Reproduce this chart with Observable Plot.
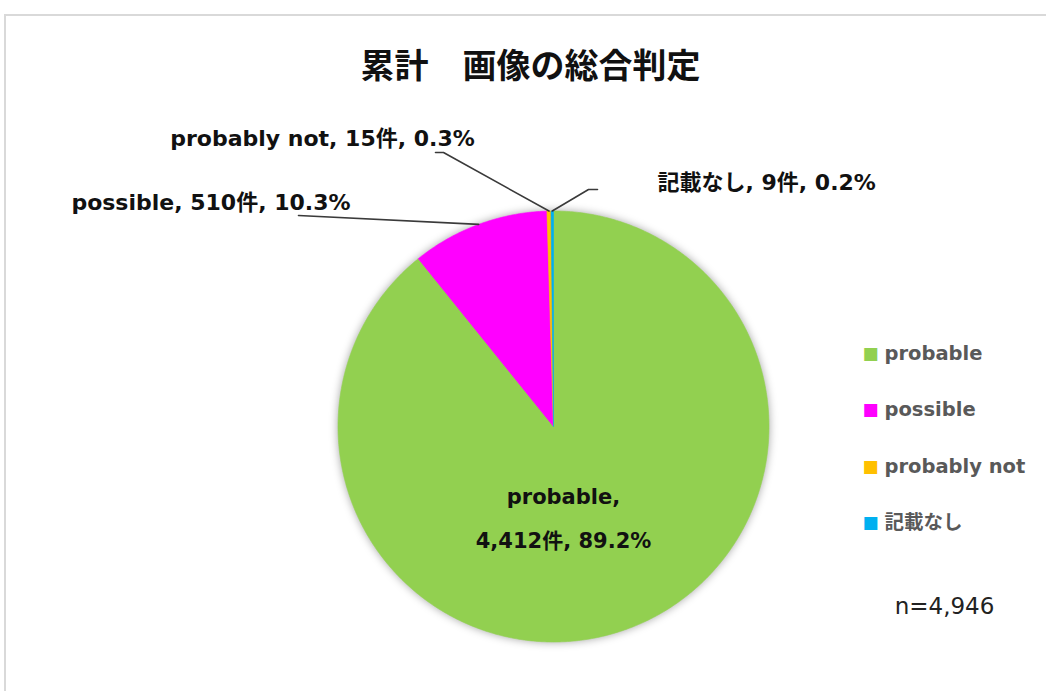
<!DOCTYPE html>
<html>
<head>
<meta charset="utf-8">
<script src="https://cdn.jsdelivr.net/npm/d3@7"></script>
<script src="https://cdn.jsdelivr.net/npm/@observablehq/plot@0.6"></script>
<style>
  html, body { margin: 0; padding: 0; background: #fff; width: 1046px; height: 691px; overflow: hidden; }
  #frame { position: absolute; left: 4px; top: 14px; width: 1100px; height: 800px;
           border-top: 2px solid #d9d9d9; border-left: 2px solid #d9d9d9; box-sizing: border-box; }
  #chart { position: absolute; left: 0; top: 0; }
</style>
</head>
<body>
<div id="frame"></div>
<div id="chart"></div>
<script>
// ---- data ----
const categories = ["probable", "possible", "probably not", "記載なし"];
const counts = [4412, 510, 15, 9];
const percents = ["89.2%", "10.3%", "0.3%", "0.2%"];
const colors = ["#92d050", "#ff00ff", "#ffc000", "#00b0f0"];
const totalLabel = "n=4,946";
const title = "累計　画像の総合判定";

// ---- layout (pixels) ----
const W = 1046, H = 691;
const CX = 553, CY = 426, R = 215.5;
const FONT = "'DejaVu Sans', 'Noto Sans CJK JP', sans-serif";
// label positions for each slice (pixel coordinates) and leader-line elbow
const labelLayout = [
  {lines: 2, x: 563, y: 497, dy2: 44, anchor: "middle", size: 21, leader: null},
  {lines: 1, x: 350, y: 202, anchor: "end", size: 22, leader: [[298, 215]]},
  {lines: 1, x: 322, y: 138, anchor: "middle", size: 22, leader: [[435, 152], [443, 152]]},
  {lines: 1, x: 657, y: 182, anchor: "start", size: 22, leader: [[597, 189], [588, 189]]}
];
const legendLayout = {x: 870, y0: 353, step: 56.5, textX: 884};

// pixel -> data units (radius units, y downward)
const ux = px => (px - CX) / R;
const uy = py => (py - CY) / R;

// ---- pie geometry via d3.pie ----
const rows = categories.map((c, i) => ({category: c, count: counts[i], pct: percents[i]}));
const arcs = d3.pie().sort(null).value(d => d.count)(rows);
const slicePts = [];
arcs.forEach(a => {
  const n = Math.max(2, Math.ceil((a.endAngle - a.startAngle) / (Math.PI / 360)));
  slicePts.push({category: a.data.category, x: 0, y: 0});
  for (let k = 0; k <= n; k++) {
    const t = a.startAngle + (a.endAngle - a.startAngle) * k / n;
    slicePts.push({category: a.data.category, x: Math.sin(t), y: -Math.cos(t)});
  }
  slicePts.push({category: a.data.category, x: 0, y: 0});
});

// leader lines: from label elbow to slice mid-arc point
const leaderPts = [];
arcs.forEach((a, i) => {
  const L = labelLayout[i];
  if (!L.leader) return;
  L.leader.forEach(p => leaderPts.push({id: i, x: ux(p[0]), y: uy(p[1])}));
  const m = (a.startAngle + a.endAngle) / 2;
  leaderPts.push({id: i, x: Math.sin(m), y: -Math.cos(m)});
});

// slice labels
const labelRows = [];
arcs.forEach((a, i) => {
  const L = labelLayout[i];
  const d = a.data;
  const cnt = d3.format(",")(d.count) + "件";
  if (L.lines === 2) {
    labelRows.push({x: ux(L.x), y: uy(L.y), text: d.category + ",", anchor: L.anchor, size: L.size});
    labelRows.push({x: ux(L.x), y: uy(L.y + L.dy2), text: cnt + ", " + d.pct, anchor: L.anchor, size: L.size});
  } else {
    labelRows.push({x: ux(L.x), y: uy(L.y), text: d.category + ", " + cnt + ", " + d.pct, anchor: L.anchor, size: L.size});
  }
});
const labelMarks = ["start", "middle", "end"].map(anc =>
  Plot.text(labelRows.filter(d => d.anchor === anc), {
    x: "x", y: "y", text: "text", textAnchor: anc, fontSize: d => d.size, fontWeight: "bold", fill: "#111"
  })
);

const legendRows = categories.map((c, i) => ({category: c, y: uy(legendLayout.y0 + i * legendLayout.step)}));

const plot = Plot.plot({
  width: W, height: H,
  margin: 0,
  style: {fontFamily: FONT, background: "transparent", overflow: "visible"},
  x: {domain: [ux(0), ux(W)], range: [0, W], axis: null},
  y: {domain: [uy(0), uy(H)], range: [0, H], axis: null},
  color: {domain: categories, range: colors},
  marks: [
    Plot.line(slicePts, {x: "x", y: "y", z: "category", fill: "category", stroke: "category", strokeWidth: 0.6, curve: "linear"}),
    Plot.line(leaderPts, {x: "x", y: "y", z: "id", stroke: "#3a3a3a", strokeWidth: 1.6}),
    ...labelMarks,
    Plot.text(legendRows, {x: ux(legendLayout.x), y: "y", text: () => "■", fill: "category", fontSize: 17}),
    Plot.text(legendRows, {x: ux(legendLayout.textX), y: "y", text: "category", textAnchor: "start", fontSize: 19.5, fontWeight: "bold", fill: "#595959"}),
    Plot.text([totalLabel], {x: ux(944), y: uy(606), text: d => d, fontSize: 23, fill: "#222"}),
    Plot.text([title], {x: ux(530), y: uy(67), text: d => d, fontSize: 34, fontWeight: "bold", fill: "#111",
      fontFamily: "'Noto Sans CJK JP', sans-serif"})
  ]
});
// Excel-like soft shadow on the pie
const g = plot.querySelector("g[aria-label='line']");
if (g) g.style.filter = "drop-shadow(0 0 4px rgba(0,0,0,0.35))";
document.getElementById("chart").appendChild(plot);
</script>
</body>
</html>
